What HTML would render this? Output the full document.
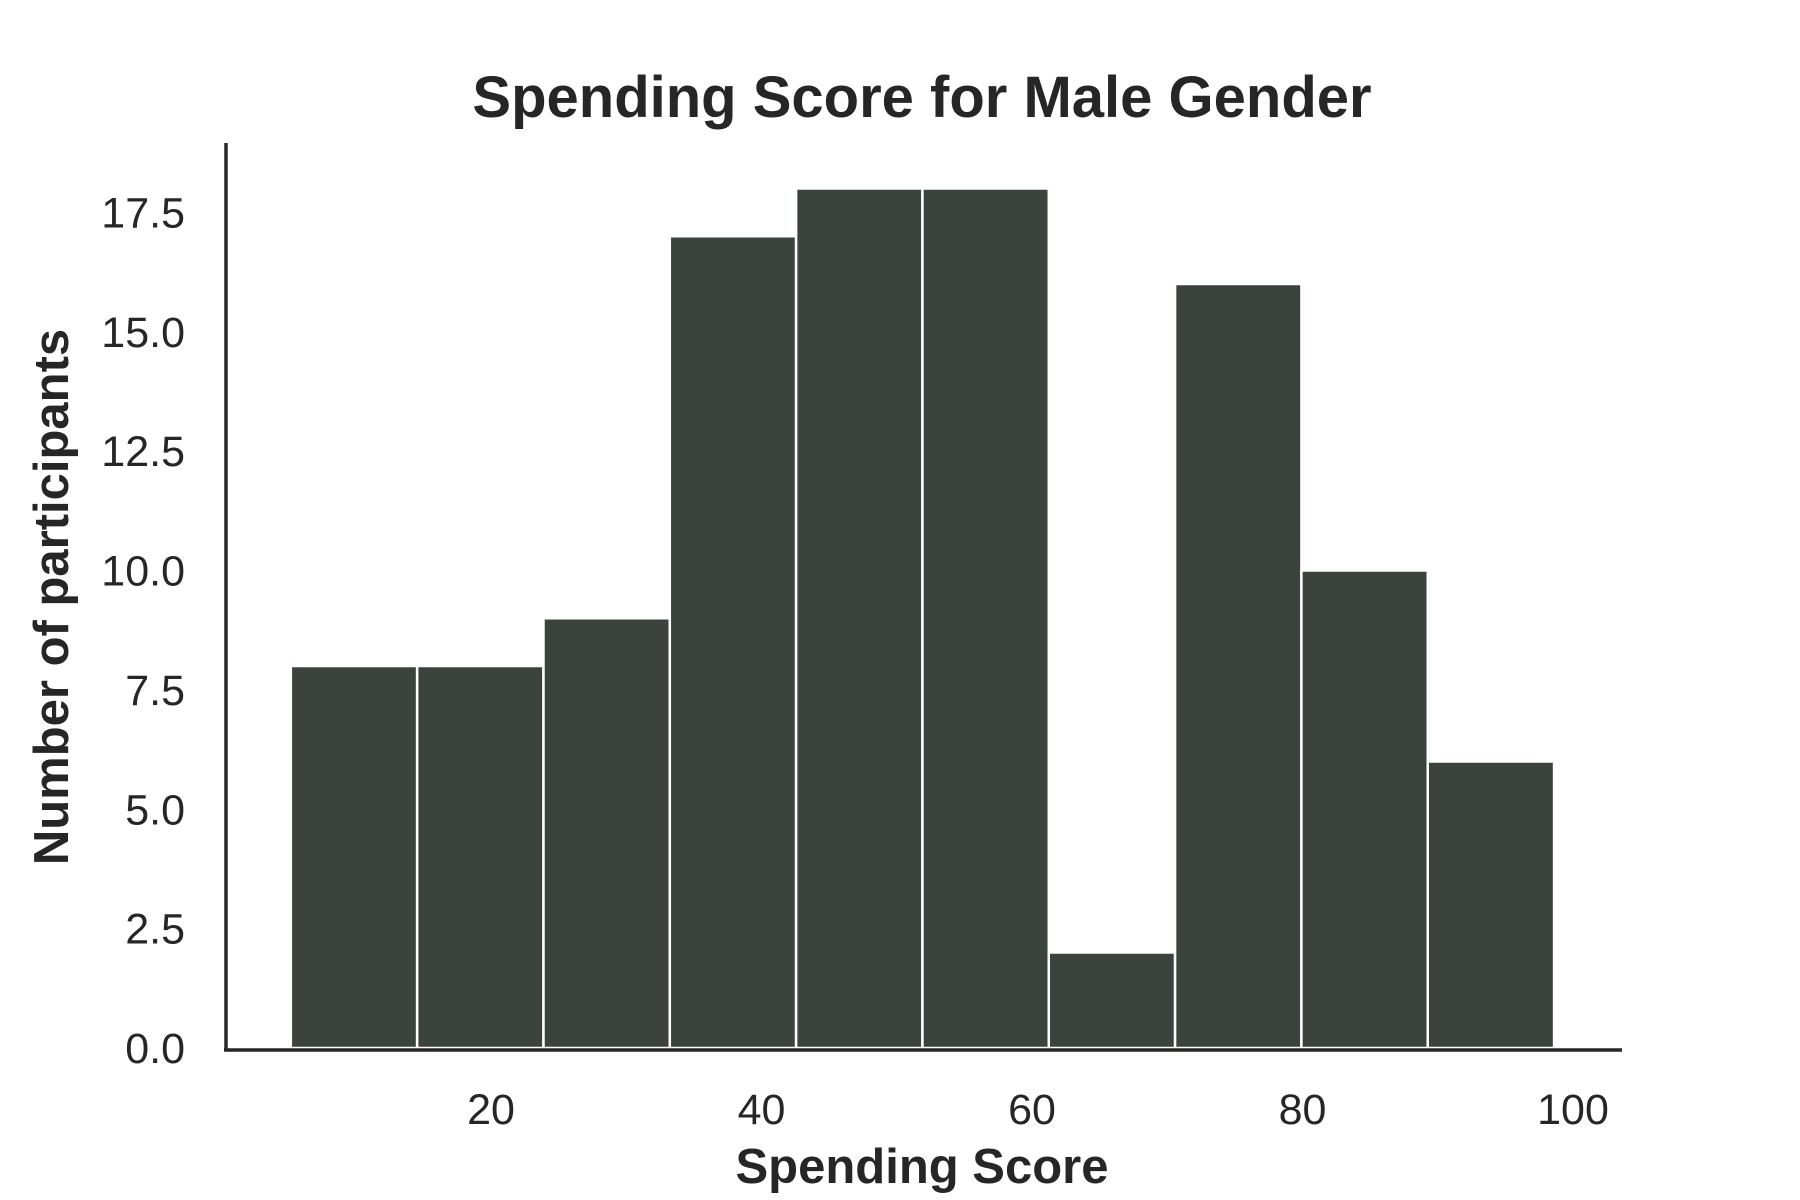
<!DOCTYPE html>
<html><head><meta charset="utf-8"><style>
html,body{margin:0;padding:0;background:#fff;}
svg{display:block;font-family:"Liberation Sans",sans-serif;}
</style></head><body>
<svg id="chart" width="1800" height="1200">
<text x="922" y="117" text-anchor="middle" font-size="58" font-weight="bold" fill="#262626">Spending Score for Male Gender</text>
<text x="922" y="1183" text-anchor="middle" font-size="49" font-weight="bold" fill="#262626">Spending Score</text>
<text transform="translate(68,597) rotate(-90)" text-anchor="middle" font-size="49" font-weight="bold" fill="#262626">Number of participants</text>
<g id="bars"></g>
<g id="yticks"></g>
<g id="xticks"></g>
<line x1="226" y1="143" x2="226" y2="1050" stroke="#262626" stroke-width="3.5"/>
<line x1="224" y1="1050" x2="1622" y2="1050" stroke="#262626" stroke-width="3.5"/>
</svg>
<script>
const binEdgeStart = 5.2;
const binWidth = 9.34;
const counts = [8, 8, 9, 17, 18, 18, 2, 16, 10, 6];
const yTickValues = [0, 2.5, 5, 7.5, 10, 12.5, 15, 17.5];
const yTickLabels = ["0.0", "2.5", "5.0", "7.5", "10.0", "12.5", "15.0", "17.5"];
const xTickValues = [20, 40, 60, 80, 100];
const xTickLabels = ["20", "40", "60", "80", "100"];

const NS = "http://www.w3.org/2000/svg";
function xs(v){ return 220.5 + v * 13.525; }
function ys(v){ return 1048 - v * 47.75; }

const bars = document.getElementById('bars');
counts.forEach((c, i) => {
  const x0 = xs(binEdgeStart + i * binWidth), x1 = xs(binEdgeStart + (i + 1) * binWidth);
  const r = document.createElementNS(NS, 'rect');
  r.setAttribute('x', x0); r.setAttribute('y', ys(c));
  r.setAttribute('width', x1 - x0); r.setAttribute('height', ys(0) - ys(c));
  r.setAttribute('fill', '#3c423e'); r.setAttribute('stroke', '#ffffff'); r.setAttribute('stroke-width', '2.5');
  
  
  bars.appendChild(r);
});

const yt = document.getElementById('yticks');
yTickValues.forEach((v, i) => {
  const t = document.createElementNS(NS, 'text');
  t.setAttribute('x', 185); t.setAttribute('y', ys(v) + 15);
  t.setAttribute('text-anchor', 'end'); t.setAttribute('font-size', '43'); t.setAttribute('fill', '#262626');
  t.textContent = yTickLabels[i];
  
  
  yt.appendChild(t);
});

const xt = document.getElementById('xticks');
xTickValues.forEach((v, i) => {
  const t = document.createElementNS(NS, 'text');
  t.setAttribute('x', xs(v)); t.setAttribute('y', 1124);
  t.setAttribute('text-anchor', 'middle'); t.setAttribute('font-size', '43'); t.setAttribute('fill', '#262626');
  t.textContent = xTickLabels[i];
  
  
  xt.appendChild(t);
});
</script>
</body></html>
